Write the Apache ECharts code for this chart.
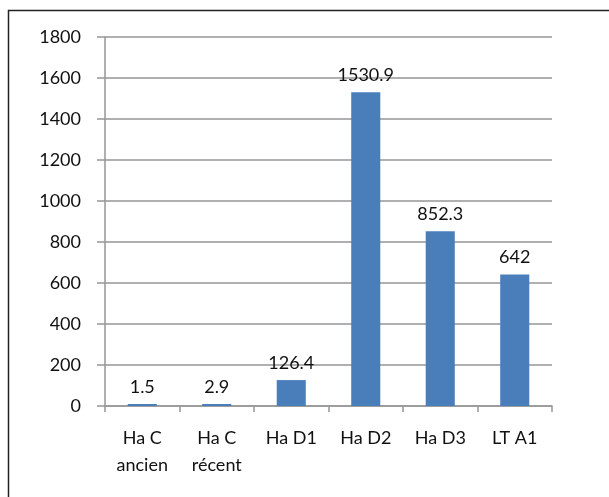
<!DOCTYPE html>
<html>
<head>
<meta charset="utf-8">
<script src="https://cdn.jsdelivr.net/npm/echarts@6/dist/echarts.min.js"></script>
<style>
  html, body { margin: 0; padding: 0; background: #fff; }
  #chart { width: 609px; height: 497px; }
</style>
</head>
<body>
<div id="chart"></div>
<script>
  // data
  var categories = ["Ha C\nancien", "Ha C\nrécent", "Ha D1", "Ha D2", "Ha D3", "LT A1"];
  var values = [1.5, 2.9, 126.4, 1530.9, 852.3, 642];

  var font = "Lato, 'Open Sans', sans-serif";
  var gridColor = "#969696";

  var chart = echarts.init(document.getElementById("chart"));
  chart.setOption({
    animation: false,
    graphic: [{
      type: "rect",
      shape: { x: 8.5, y: 10.5, width: 700, height: 600 },
      style: { fill: null, stroke: "#222", lineWidth: 1.5 },
      silent: true
    }],
    grid: {
      left: 105,
      right: 57,
      top: 37,
      bottom: 91
    },
    xAxis: {
      type: "category",
      data: categories,
      axisLine: { lineStyle: { color: gridColor, width: 1.5 } },
      axisTick: { show: true, length: 6, lineStyle: { color: gridColor, width: 1.5 } },
      axisLabel: {
        color: "#111",
        fontFamily: font,
        fontSize: 18,
        lineHeight: 27,
        margin: 19,
        interval: 0
      }
    },
    yAxis: {
      type: "value",
      min: 0,
      max: 1800,
      interval: 200,
      axisLine: { show: true, lineStyle: { color: gridColor, width: 1.5 } },
      axisTick: { show: true, length: 8, lineStyle: { color: gridColor, width: 1.5 } },
      splitLine: { lineStyle: { color: gridColor, width: 1.5 } },
      axisLabel: {
        color: "#111",
        fontFamily: font,
        fontSize: 18,
        margin: 24,
        formatter: function (v) { return String(v); }
      }
    },
    series: [{
      type: "bar",
      data: values,
      barWidth: "39%",
      barMinHeight: 2,
      itemStyle: { color: "#4a7ebb" },
      label: {
        show: true,
        position: "top",
        distance: 8,
        color: "#111",
        fontFamily: font,
        fontSize: 18
      }
    }]
  });
</script>
</body>
</html>
